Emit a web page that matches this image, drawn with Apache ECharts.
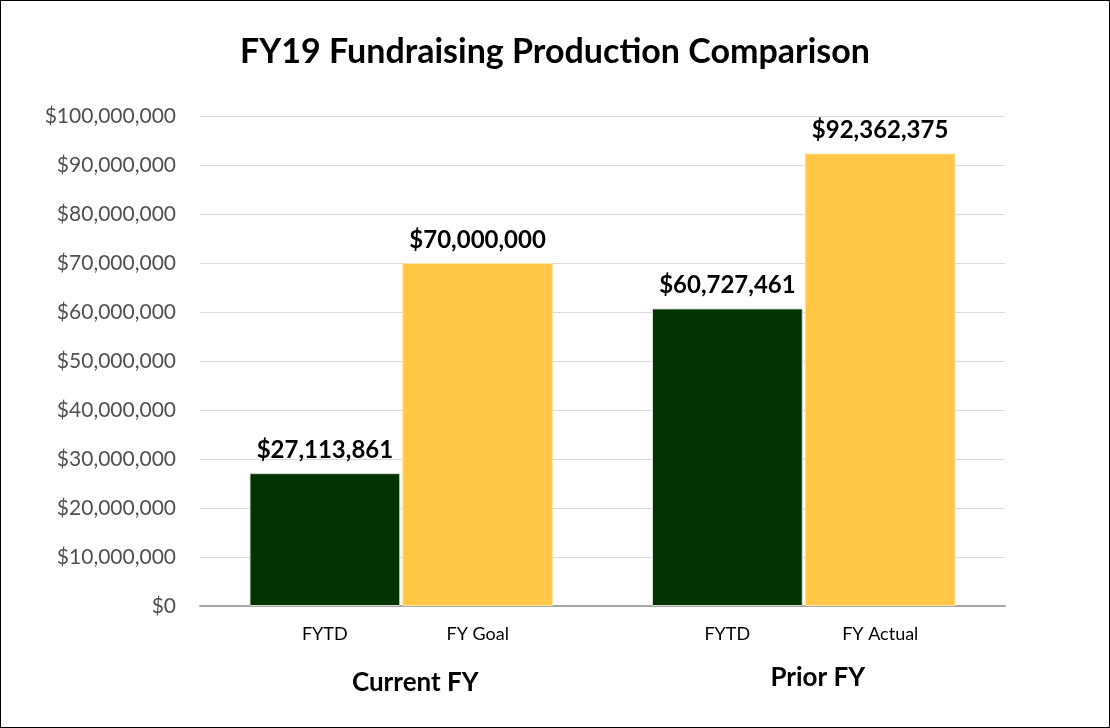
<!DOCTYPE html>
<html>
<head>
<meta charset="utf-8">
<script src="https://cdn.jsdelivr.net/npm/echarts@6/dist/echarts.min.js"></script>
<style>
  html, body { margin: 0; padding: 0; background: #fff; }
  #chart { width: 1108px; height: 726px; border: 1px solid #000; }
</style>
</head>
<body>
<div id="chart"></div>
<script>
// 数据
const groups = ["Current FY", "Prior FY"];
const subLabels = [["FYTD", "FY Goal"], ["FYTD", "FY Actual"]];
const fytdValues = [27113861, 60727461];
const targetValues = [70000000, 92362375];

const font = "Lato, 'Open Sans', sans-serif";
const money = (v) => "$" + Math.round(v).toLocaleString("en-US");

const myChart = echarts.init(document.getElementById("chart"));
const option = {
  animation: false,
  textStyle: { fontFamily: font },
  title: {
    text: "FY19 Fundraising Production Comparison",
    left: "center",
    top: 29,
    textStyle: { fontSize: 34, fontWeight: "bold", color: "#000", fontFamily: font },
  },
  grid: { left: 199, right: 104, top: 115, bottom: 121, containLabel: false },
  xAxis: {
    type: "category",
    data: groups,
    axisLine: { lineStyle: { color: "#a6a6a6", width: 2 } },
    axisTick: { show: false },
    axisLabel: {
      margin: 17,
      interval: 0,
      formatter: (val, idx) => {
        const s = subLabels[idx];
        return "{a|" + s[0] + "}{b|" + s[1] + "}\n{" + (idx === 0 ? "g" : "h") + "|" + val + "}";
      },
      rich: {
        a: { width: 153, align: "center", fontSize: 18, color: "#000", lineHeight: 22, fontFamily: font },
        b: { width: 153, align: "center", fontSize: 18, color: "#000", lineHeight: 22, fontFamily: font },
        g: { fontSize: 26, fontWeight: "bold", color: "#000", lineHeight: 76, padding: [0, 0, 0, 28], fontFamily: font },
        h: { fontSize: 26, fontWeight: "bold", color: "#000", lineHeight: 66, padding: [0, 0, 0, 28], fontFamily: font },
      },
    },
  },
  yAxis: {
    type: "value",
    min: 0,
    max: 100000000,
    interval: 10000000,
    axisLine: { show: false },
    axisTick: { show: false },
    splitLine: { lineStyle: { color: "#d9d9d9", width: 1 } },
    axisLabel: { margin: 24, fontSize: 21, color: "#505050", formatter: money },
  },
  series: [
    {
      name: "FYTD",
      type: "bar",
      data: fytdValues,
      barGap: "1.3%",
      barCategoryGap: "24.6%",
      itemStyle: { color: "#033303", borderColor: "#d8dcd0", borderWidth: 1 },
      label: { show: true, position: "top", distance: 11, fontSize: 24, fontWeight: "bold", color: "#000", formatter: (p) => money(p.value) },
    },
    {
      name: "Goal / Actual",
      type: "bar",
      data: targetValues,
      itemStyle: { color: "#ffc745", borderColor: "#ffe6a8", borderWidth: 1 },
      label: { show: true, position: "top", distance: 11, fontSize: 24, fontWeight: "bold", color: "#000", formatter: (p) => money(p.value) },
    },
  ],
};
myChart.setOption(option, true);
</script>
</body>
</html>
